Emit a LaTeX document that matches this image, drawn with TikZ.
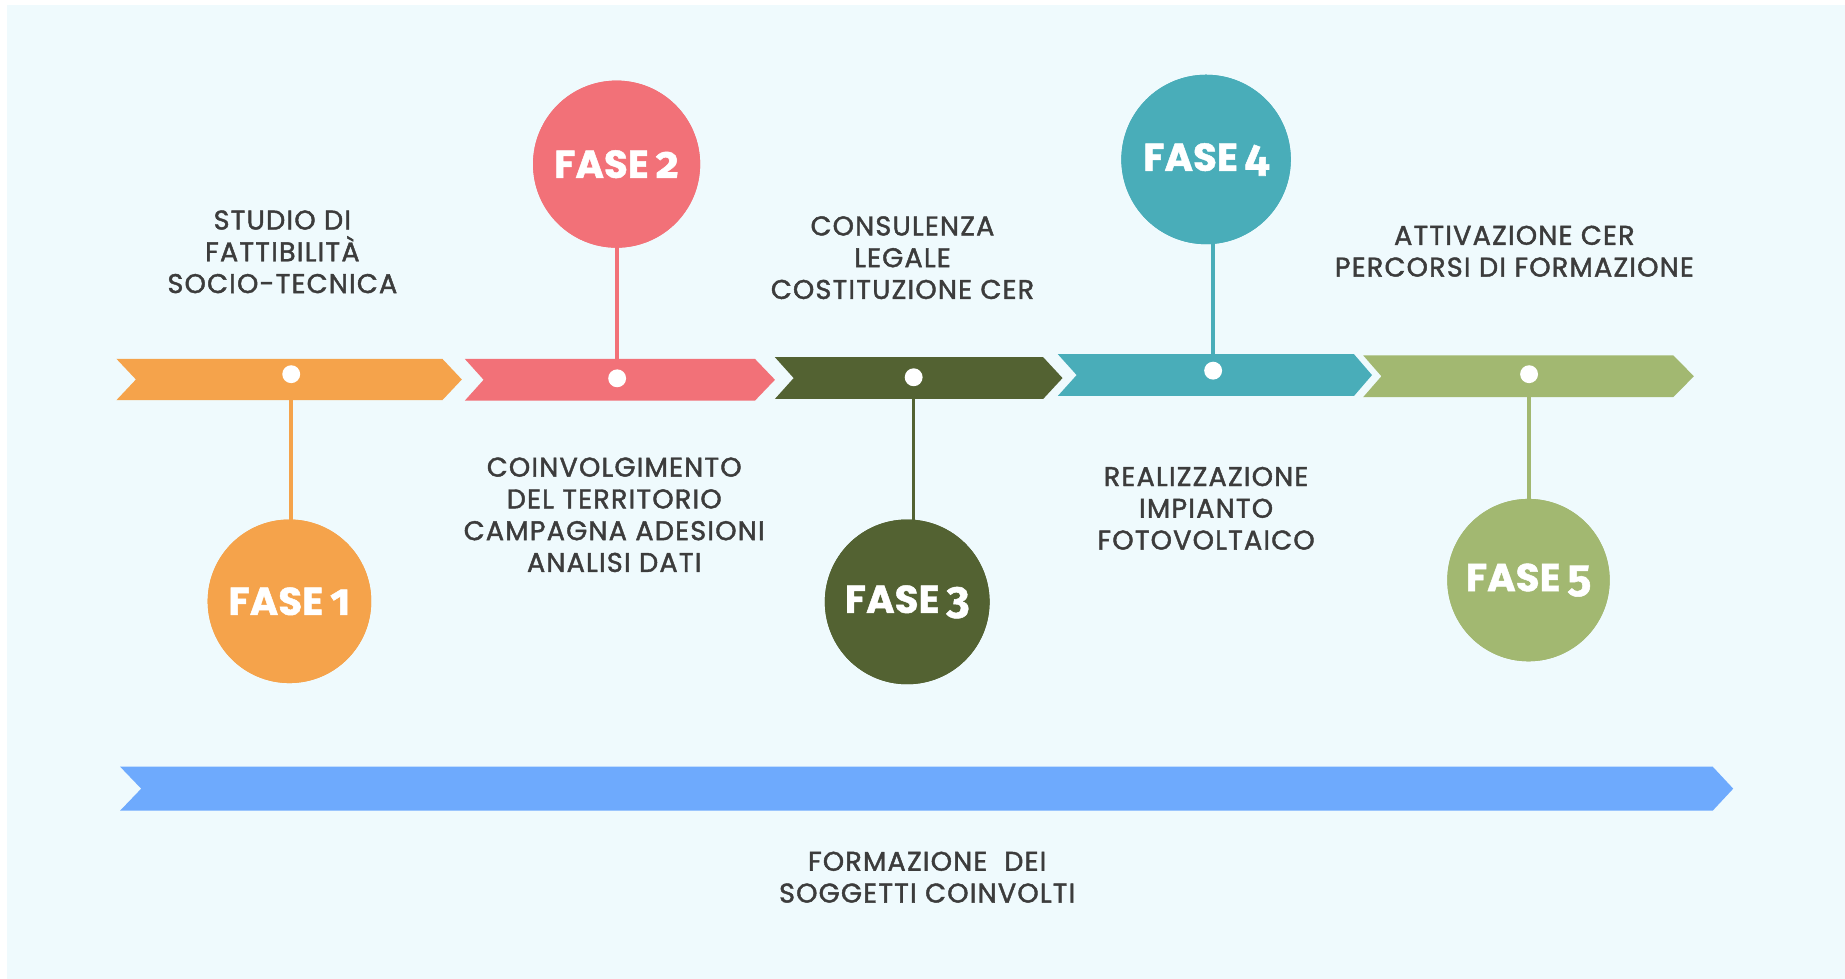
\documentclass[tikz,border=0pt]{standalone}
\usepackage{fontspec}
\setmainfont{Poppins}
\newfontfamily\labfont{Poppins}[FakeBold=1.6,LetterSpace=4.5]
\newfontfamily\fasefont{Poppins Bold}[FakeBold=1.2]
\newfontfamily\fira{Fira Sans Bold}[Numbers=OldStyle,FakeBold=1.2]
\definecolor{bg}{HTML}{EFFAFD}
\definecolor{corange}{HTML}{F5A34B}
\definecolor{cpink}{HTML}{F27178}
\definecolor{colive}{HTML}{536232}
\definecolor{cteal}{HTML}{49ADB9}
\definecolor{cgreen}{HTML}{A2B871}
\definecolor{cblue}{HTML}{6EAAFD}
\definecolor{txt}{HTML}{3C3C3C}
\newcommand\chevronshape[7]{% color, xl, notch, xr, tip, ytop, ybot
  \fill[#1] (#2,#6) -- (#4,#6) -- (#5,{(#6+#7)/2}) -- (#4,#7) -- (#2,#7) -- (#3,{(#6+#7)/2}) -- cycle;}
\newcommand\fase[1]{{\fasefont FASE}\hspace{0.18em}{\fira\fontsize{19}{19}\selectfont #1}}
\begin{document}
\begin{tikzpicture}[x=0.5pt,y=-0.5pt,
  lab/.style={text=txt, align=center, inner sep=0pt, font=\labfont\fontsize{11.5}{13.5}\selectfont},
  phase/.style={circle, fill=#1, inner sep=0pt, text=white, font=\fontsize{16.5}{18}\selectfont},
  stem/.style={draw=#1, line width=1.5pt},
  dot/.style={circle, fill=white, inner sep=0pt, minimum width=7pt, minimum height=7.6pt}]
\useasboundingbox (0,0) rectangle (1568,832);
\fill[white] (0,0) rectangle (1568,832);
\fill[bg] (6,4) rectangle (1568,832);

% dots (coordinates of the timeline)
\coordinate (d1) at (247.5,318);
\coordinate (d2) at (524.5,321.5);
\coordinate (d3) at (776.5,320.6);
\coordinate (d4) at (1031,315);
\coordinate (d5) at (1299.5,318);

% phase circles
\node[phase=corange, minimum size=69.5pt] (c1) at (246,511) {\fase{1}};
\node[phase=cpink,   minimum size=71pt]   (c2) at (524,139.5) {\fase{2}};
\node[phase=colive,  minimum size=70pt]   (c3) at (771,511.5) {\fase{3}};
\node[phase=cteal,   minimum size=72pt]   (c4) at (1025,135.5) {\fase{4}};
\node[phase=cgreen,  minimum size=69pt]   (c5) at (1299,493) {\fase{5}};

% stems
\draw[stem=corange] (d1) -- (d1 |- c1);
\draw[stem=cpink]   (d2) -- (d2 |- c2);
\draw[stem=colive]  (d3) -- (d3 |- c3);
\draw[stem=cteal]   (d4) -- (d4 |- c4);
\draw[stem=cgreen]  (d5) -- (d5 |- c5);

% chevrons
\chevronshape{corange}{99}{115.5}{376}{392.5}{305}{340}
\chevronshape{cpink}{395}{411}{641.6}{658.6}{305}{340.5}
\chevronshape{colive}{658.6}{674.5}{886.6}{903}{303.6}{339}
\chevronshape{cteal}{899}{915}{1150.7}{1166}{301}{336.5}
\chevronshape{cgreen}{1158.5}{1174}{1422}{1439.6}{302}{337.5}
\chevronshape{cblue}{102}{120}{1455.5}{1473}{651.5}{689}

% white dots
\foreach \i in {1,...,5} \node[dot] (w\i) at (d\i) {};

% circles again on top of stems
\node[phase=corange, minimum size=69.5pt] at (c1) {\fase{1}};
\node[phase=cpink,   minimum size=71pt]   at (c2) {\fase{2}};
\node[phase=colive,  minimum size=70pt]   at (c3) {\fase{3}};
\node[phase=cteal,   minimum size=72pt]   at (c4) {\fase{4}};
\node[phase=cgreen,  minimum size=69pt]   at (c5) {\fase{5}};

% labels
\node[lab] (l1) at (240,214) {STUDIO DI\\FATTIBILITÀ\\SOCIO-TECNICA};
\node[lab] (l2) at (767,219) {CONSULENZA\\LEGALE\\COSTITUZIONE CER};
\node[lab] (l3) at (1287,213.5) {ATTIVAZIONE CER\\PERCORSI DI FORMAZIONE};
\node[lab] (l4) at (522,437.5) {COINVOLGIMENTO\\DEL TERRITORIO\\CAMPAGNA ADESIONI\\ANALISI DATI};
\node[lab] (l5) at (1025,432) {REALIZZAZIONE\\IMPIANTO\\FOTOVOLTAICO};
\node[lab] (l6) at (788,745.5) {FORMAZIONE\ \ DEI\\SOGGETTI COINVOLTI};
\end{tikzpicture}
\end{document}
